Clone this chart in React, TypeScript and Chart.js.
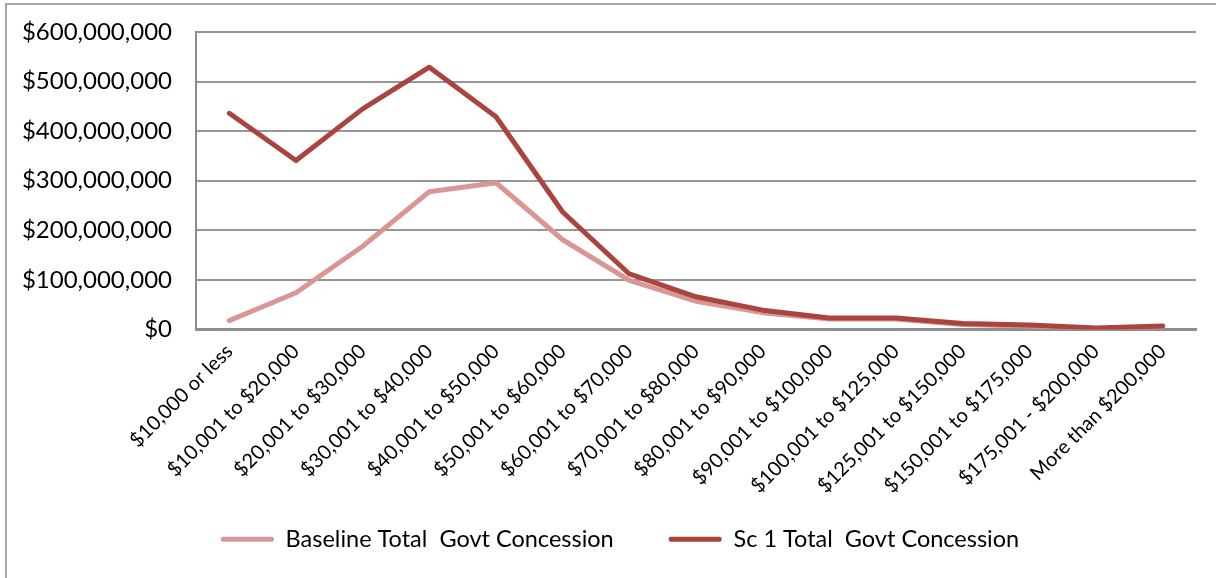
import React, { useEffect, useRef } from "react";
import { Chart, registerables } from "chart.js";

Chart.register(...registerables);

const categories: string[] = [
  "$10,000 or less",
  "$10,001 to $20,000",
  "$20,001 to $30,000",
  "$30,001 to $40,000",
  "$40,001 to $50,000",
  "$50,001 to $60,000",
  "$60,001 to $70,000",
  "$70,001 to $80,000",
  "$80,001 to $90,000",
  "$90,001 to $100,000",
  "$100,001 to $125,000",
  "$125,001 to $150,000",
  "$150,001 to $175,000",
  "$175,001 - $200,000",
  "More than $200,000",
];

const baselineValues: number[] = [
  18000000, 74000000, 168000000, 278000000, 296000000, 181000000, 99000000,
  57000000, 34000000, 21000000, 21000000, 10000000, 7000000, 2000000, 5000000,
];

const sc1Values: number[] = [
  436000000, 341000000, 445000000, 529000000, 429000000, 237000000, 112000000,
  66000000, 39000000, 23000000, 23000000, 12000000, 9000000, 3000000, 7000000,
];

const seriesNames: string[] = [
  "Baseline Total  Govt Concession",
  "Sc 1 Total  Govt Concession",
];

const FONT = "Lato, 'Open Sans', sans-serif";

const extendClip = {
  id: "extendClip",
  afterLayout(chart: any) {
    const x = chart.scales.x;
    if (x) x.bottom = x.bottom + 40;
    const y = chart.scales.y;
    if (y) y.left = 0;
  },
};

export default function App() {
  const canvasRef = useRef<HTMLCanvasElement | null>(null);

  useEffect(() => {
    const canvas = canvasRef.current;
    if (!canvas) return;
    const chart = new Chart(canvas, {
      type: "line",
      data: {
        labels: categories,
        datasets: [
          {
            label: seriesNames[0],
            data: baselineValues,
            borderColor: "#d99694",
            backgroundColor: "#d99694",
            borderWidth: 5,
            pointRadius: 0,
            tension: 0,
            borderJoinStyle: "round",
            borderCapStyle: "round",
            order: 1,
          },
          {
            label: seriesNames[1],
            data: sc1Values,
            borderColor: "#a9443f",
            backgroundColor: "#a9443f",
            borderWidth: 5,
            pointRadius: 0,
            tension: 0,
            borderJoinStyle: "round",
            borderCapStyle: "round",
            order: 0,
          },
        ],
      },
      plugins: [extendClip],
      options: {
        responsive: false,
        animation: false,
        devicePixelRatio: 1,
        layout: { padding: { left: 44, top: 32, right: 20, bottom: 17 } },
        plugins: {
          tooltip: { enabled: false },
          legend: {
            position: "bottom",
            labels: {
              font: { family: FONT, size: 23.5 },
              color: "#000",
              boxWidth: 53,
              boxHeight: 5,
              padding: 55,
              generateLabels: (ch: any) => {
                const items = Chart.defaults.plugins.legend.labels.generateLabels(ch);
                return items
                  .map((it: any) => ({ ...it, lineWidth: 0, borderRadius: 2 }))
                  .sort((a: any, b: any) => a.datasetIndex - b.datasetIndex);
              },
            },
          },
        },
        scales: {
          x: {
            offset: true,
            grid: { display: false, drawTicks: false },
            border: { display: true, color: "#8c8c8c", width: 3 },
            ticks: {
              autoSkip: false,
              maxRotation: 45,
              minRotation: 45,
              padding: 10,
              color: "#000",
              font: { family: FONT, size: 20 },
            },
            afterFit: (scale: any) => {
              scale.height = 143;
            },
          },
          y: {
            min: 0,
            max: 600000000,
            grid: { color: "#969696", lineWidth: 2, drawTicks: false },
            border: { display: true, color: "#8c8c8c", width: 2 },
            ticks: {
              stepSize: 100000000,
              padding: 24,
              color: "#000",
              font: { family: FONT, size: 24 },
              callback: (v: any) => "$" + Number(v).toLocaleString("en-US"),
            },
            afterFit: (scale: any) => {
              scale.width = 152;
              scale.paddingTop = 0;
              scale.paddingBottom = 0;
            },
          },
        },
      },
    });
    return () => chart.destroy();
  }, []);

  return (
    <div>
      <div
        style={{
          position: "fixed",
          left: 5,
          top: 3,
          right: -20,
          bottom: -20,
          border: "2px solid #a6a6a6",
          background: "#fff",
        }}
      />
      <canvas
        ref={canvasRef}
        width={1216}
        height={578}
        style={{ position: "fixed", left: 0, top: 0, width: 1216, height: 578 }}
      />
    </div>
  );
}
